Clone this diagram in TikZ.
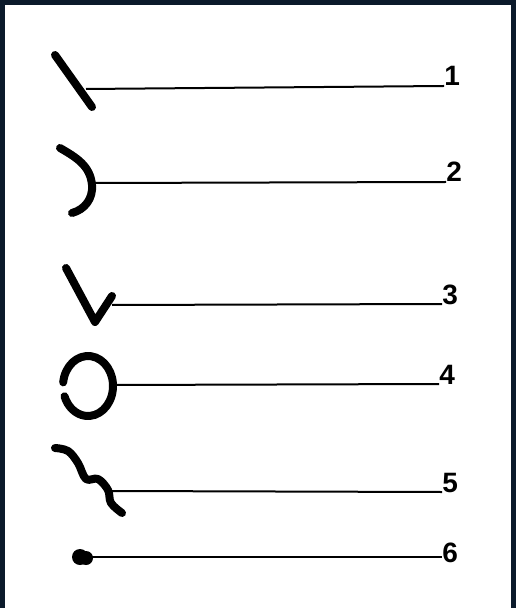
\documentclass[tikz,border=0pt]{standalone}
\usepackage{fontspec}
\setmainfont{Liberation Sans}
\definecolor{frame}{HTML}{0B1A2B}
\tikzset{
  mark stroke/.style={line width=4pt, line cap=round, line join=round},
  leader/.style={line width=1pt},
  numlabel/.style={anchor=base west, inner sep=0pt, font=\bfseries\fontsize{14}{14}\selectfont}
}
\begin{document}
\begin{tikzpicture}[x=0.5pt,y=-0.5pt]
\useasboundingbox (0,0) rectangle (516,608);
\fill[frame] (0,0) rectangle (516,608);
\fill[white] (5,5) rectangle (511,608);
% symbols
\draw[mark stroke] (55,55) -- (92,107);
\draw[mark stroke] (60,148) to[out=-30,in=95] (92,185) to[out=-85,in=15] (72,213);
\draw[mark stroke] (66,268) -- (95,322) -- (112,296);
\draw[mark stroke] (88,386) ++(187:25 and 30) arc[start angle=187, end angle=520, x radius=25, y radius=30];
\draw[mark stroke] plot[smooth, tension=0.6] coordinates {(55,448) (68,451) (78,463) (86,479) (98,479) (108,490) (111,503) (122,513)};
\fill (80,557) circle[radius=8];
\fill (86,558) circle[radius=7];
% connector start points
\coordinate (s1) at (86,89);
\coordinate (s2) at (95,183);
\coordinate (s3) at (112,305);
\coordinate (s4) at (113,385);
\coordinate (s5) at (112,491);
\coordinate (s6) at (90,557);
% labels
\node[numlabel] (l1) at (444,86) {1};
\node[numlabel] (l2) at (446,182) {2};
\node[numlabel] (l3) at (442,304) {3};
\node[numlabel] (l4) at (439,384) {4};
\node[numlabel] (l5) at (442,492) {5};
\node[numlabel] (l6) at (442,562) {6};
% leaders
\draw[leader] (s1) -- (l1.base west);
\draw[leader] (s2) -- (l2.base west);
\draw[leader] (s3) -- (l3.base west);
\draw[leader] (s4) -- (l4.base west);
\draw[leader] (s5) -- (l5.base west);
\draw[leader] (s6) -- ([yshift=2.5pt]l6.base west);
\end{tikzpicture}
\end{document}
